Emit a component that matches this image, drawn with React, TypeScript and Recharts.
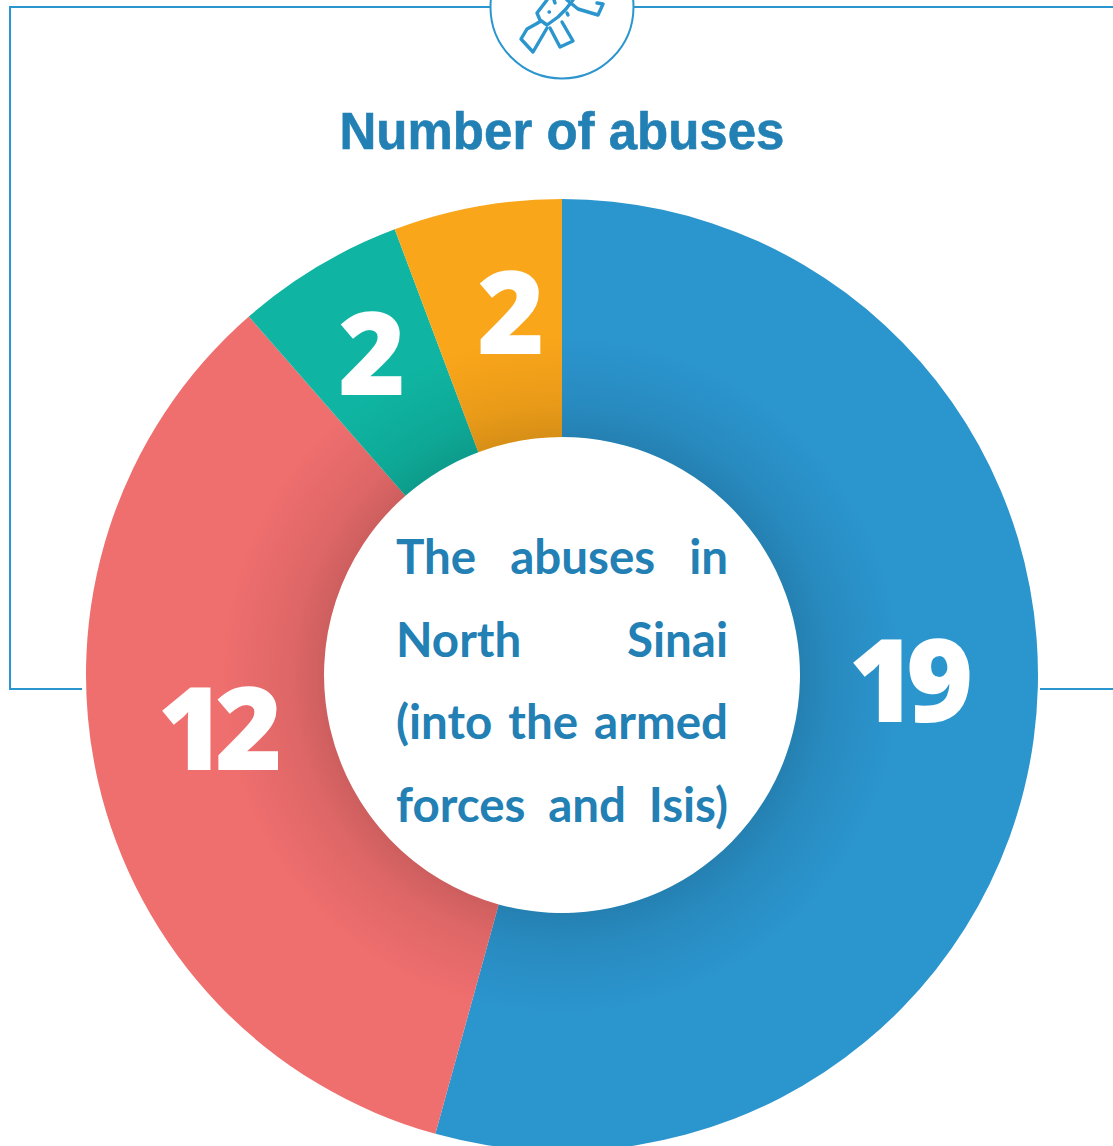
import { PieChart, Pie, Cell, LabelList } from 'recharts'

const categories = ['Armed forces', 'Isis', 'Other A', 'Other B']
const abuses = [19, 12, 2, 2]
const sliceColors = ['#2b95ce', '#ef6e6e', '#0fb5a2', '#faa61a']
const shadowBand = [35]
const centerLines = ['The abuses in', 'North Sinai', '(into the armed', 'forces and Isis)']

// the numbers were placed by hand in the original, not on the slice midpoints
const labelSpots = [
    { x: 906, y: 677 },
    { x: 215, y: 725 },
    { x: 367, y: 350 },
    { x: 506, y: 309 },
]

const data = categories.map((name, i) => ({ name, value: abuses[i] }))
const shadowData = shadowBand.map((value) => ({ name: 'shadow', value }))

const BLUE = '#2b95ce'
const TEXT_BLUE = '#2280b4'
const CX = 562
const CY = 675

const renderNumber = (props: any) => {
    const spot = labelSpots[props.index]
    return (
        <text
            x={spot.x}
            y={spot.y}
            textAnchor="middle"
            dominantBaseline="central"
            fill="#fff"
            fontFamily="Open Sans"
            fontWeight={800}
            fontSize={115}
            letterSpacing={-10}
        >
            {props.value}
        </text>
    )
}

function Frame() {
    return (
        <svg width={1113} height={1146} style={{ position: 'absolute', left: 0, top: 0 }}>
            <g fill="none" stroke={BLUE} strokeWidth={2}>
                <path d="M490 7H10V689H82" />
                <path d="M634 7H1113" />
                <path d="M1040 689H1113" />
                <circle cx={562} cy={7} r={71.5} fill="#fff" />
                <g strokeWidth={3.4} strokeLinejoin="round" strokeLinecap="round">
                    <path d="M547 28L533 52L521 39L527 29L536 24L541 21" />
                    <path d="M550 28L560 47L573 41L562 22" />
                    <path d="M547 0L537 13L540 20L547 25L558 17L566 9L573 0" />
                    <path d="M567 0L578 9L598 15L603 4L597 3" />
                    <path d="M554 0L555 3" />
                    <path d="M549 12L549.5 12" />
                    <path d="M567 13L568 15" />
                </g>
            </g>
            <text
                x={CX}
                y={149}
                textAnchor="middle"
                fill={TEXT_BLUE}
                stroke={TEXT_BLUE}
                strokeWidth={0.6}
                fontFamily="Liberation Sans"
                fontWeight={700}
                fontSize={51}
            >
                Number of abuses
            </text>
        </svg>
    )
}

export default function App() {
    return (
        <div style={{ position: 'absolute', left: 0, top: 0, width: 1113, height: 1146, overflow: 'hidden', background: '#fff' }}>
            <Frame />
            <div style={{ position: 'absolute', left: 0, top: 0 }}>
                <PieChart width={1113} height={1146} margin={{ top: 0, right: 0, bottom: 0, left: 0 }}>
                    <defs>
                        <radialGradient id="holeShadow" gradientUnits="userSpaceOnUse" cx={CX} cy={CY} r={340}>
                            <stop offset="0.7" stopColor="#000" stopOpacity={0.14} />
                            <stop offset="0.8" stopColor="#000" stopOpacity={0.07} />
                            <stop offset="1" stopColor="#000" stopOpacity={0} />
                        </radialGradient>
                    </defs>
                    <Pie
                        data={data}
                        dataKey="value"
                        cx={CX}
                        cy={CY}
                        innerRadius={238}
                        outerRadius={476}
                        startAngle={90}
                        endAngle={-270}
                        stroke="none"
                        isAnimationActive={false}
                    >
                        {data.map((d, i) => (
                            <Cell key={d.name} fill={sliceColors[i]} />
                        ))}
                    </Pie>
                    <Pie
                        data={shadowData}
                        dataKey="value"
                        cx={CX}
                        cy={CY}
                        innerRadius={238}
                        outerRadius={340}
                        startAngle={90}
                        endAngle={-270}
                        stroke="none"
                        fill="url(#holeShadow)"
                        isAnimationActive={false}
                    />
                    <Pie
                        data={data}
                        dataKey="value"
                        cx={CX}
                        cy={CY}
                        innerRadius={238}
                        outerRadius={476}
                        startAngle={90}
                        endAngle={-270}
                        stroke="none"
                        fill="none"
                        isAnimationActive={false}
                    >
                        <LabelList dataKey="value" content={renderNumber} />
                    </Pie>
                </PieChart>
            </div>
            <div
                style={{
                    position: 'absolute',
                    left: 396,
                    top: 515,
                    width: 332,
                    color: TEXT_BLUE,
                    fontFamily: 'Lato',
                    fontWeight: 700,
                    fontSize: 47.5,
                    lineHeight: '82.5px',
                }}
            >
                {centerLines.map((line) => (
                    <div key={line} style={{ textAlign: 'justify', textAlignLast: 'justify', whiteSpace: 'normal' }}>
                        {line}
                    </div>
                ))}
            </div>
        </div>
    )
}
